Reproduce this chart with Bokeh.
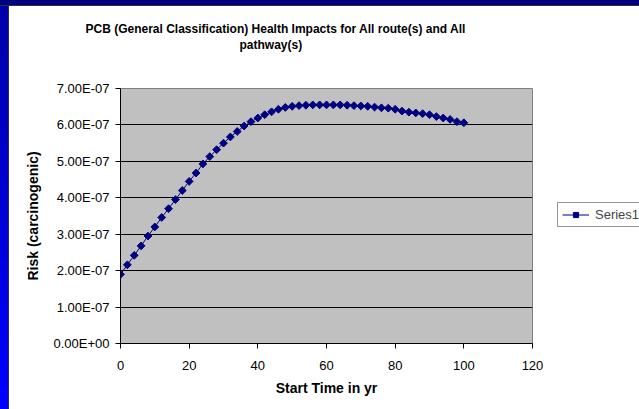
import math
from bokeh.plotting import figure
from bokeh.layouts import row
from bokeh.models import (Range1d, FixedTicker, CustomJSTickFormatter, Title,
                          Legend, LegendItem)
from bokeh.embed import file_html
from bokeh.resources import INLINE

# ---------------- data ----------------
start_time = list(range(0, 101, 2))
risk_e7 = [1.90, 2.16, 2.42, 2.68, 2.95, 3.20, 3.46, 3.70, 3.95, 4.20,
           4.45, 4.68, 4.93, 5.13, 5.32, 5.50, 5.67, 5.82, 5.97, 6.09,
           6.19, 6.28, 6.36, 6.43, 6.48, 6.51, 6.53, 6.54, 6.55, 6.55,
           6.55, 6.55, 6.55, 6.54, 6.53, 6.52, 6.51, 6.49, 6.47, 6.46,
           6.43, 6.38, 6.35, 6.33, 6.31, 6.28, 6.23, 6.19, 6.15, 6.09,
           6.06]
risk = [v * 1e-7 for v in risk_e7]
x_ticks = [0, 20, 40, 60, 80, 100, 120]
y_ticks = [0, 1e-7, 2e-7, 3e-7, 4e-7, 5e-7, 6e-7, 7e-7]
title_line1 = "PCB (General Classification) Health Impacts for All route(s) and All"
title_line2 = "pathway(s)"
x_label = "Start Time in yr"
y_label = "Risk (carcinogenic)"
series_name = "Series1"

W, H = 639, 409
FL, FR, FT, FB = 120, 532, 88, 343  # frame edges on canvas
W1 = 550                             # main figure width
W2 = W - W1                          # legend strip width

FONT = "Liberation Sans"
NAVY = "#000080"

p = figure(width=W1, height=H, output_backend="svg", toolbar_location=None,
           title=None,
           x_range=Range1d(0, 120), y_range=Range1d(0, 7e-7),
           min_border_left=FL, min_border_right=W1 - FR,
           min_border_top=FT, min_border_bottom=H - FB)
p.border_fill_alpha = 0
p.background_fill_color = "#c0c0c0"
p.outline_line_color = "#808080"
p.outline_line_width = 1

# slide decoration behind the chart (navy top strip, blue gradient left strip)
p.styles = {
    "background-color": "white",
    "background-image": ("linear-gradient(#000080, #000080), "
                         "linear-gradient(#303030, #303030), "
                         "linear-gradient(to bottom, #0000a8, #0000ff), "
                         "linear-gradient(#303030, #303030)"),
    "background-size": "100% 5px, 100% 1px, 8px 100%, 1px 100%",
    "background-position": "0 0, 0 5px, 0 0, 8px 0",
    "background-repeat": "no-repeat",
}

# axes
for ax in (p.xaxis[0], p.yaxis[0]):
    ax.axis_line_color = "black"
    ax.major_tick_line_color = "black"
    ax.major_tick_out = 5
    ax.major_tick_in = 0
    ax.minor_tick_line_color = None
    ax.major_label_text_font = FONT
    ax.major_label_text_font_size = "13px"
    ax.major_label_text_color = "black"
    ax.axis_label_text_font = FONT
    ax.axis_label_text_font_size = "14px"
    ax.axis_label_text_font_style = "bold"
    ax.axis_label_text_color = "black"

p.xaxis[0].ticker = FixedTicker(ticks=x_ticks)
p.xaxis[0].axis_label = x_label
p.xaxis[0].major_label_standoff = 12
p.xaxis[0].axis_label_standoff = 7

p.yaxis[0].ticker = FixedTicker(ticks=y_ticks)
p.yaxis[0].axis_label = y_label
p.yaxis[0].major_label_standoff = 6
p.yaxis[0].axis_label_standoff = 9
p.yaxis[0].formatter = CustomJSTickFormatter(code="""
if (Math.abs(tick) < 1e-20) return "0.00E+00";
var e = Math.floor(Math.log10(Math.abs(tick)) + 1e-9);
var m = tick / Math.pow(10, e);
if (Math.abs(m) >= 9.995) { m /= 10; e += 1; }
var s = e < 0 ? "-" : "+";
var ae = Math.abs(e);
return m.toFixed(2) + "E" + s + (ae < 10 ? "0" : "") + ae;
""")

p.xgrid.grid_line_color = None
p.ygrid.grid_line_color = "black"
p.ygrid.grid_line_width = 1

# series
p.line(start_time, risk, line_color=NAVY, line_width=1)
p.scatter(start_time, risk, marker="square", angle=math.pi / 4, size=5.5,
          fill_color=NAVY, line_color=NAVY)

# titles: spacer (closest to frame), then line 2, then line 1 on top
p.add_layout(Title(text=" ", text_font_size="31px", standoff=0), "above")
p.add_layout(Title(text=title_line2, align="left", offset=239 - FL,
                   text_font=FONT, text_font_size="12px", text_font_style="bold",
                   text_color="black", standoff=0), "above")
p.add_layout(Title(text=title_line1, align="left", offset=85 - FL,
                   text_font=FONT, text_font_size="12px", text_font_style="bold",
                   text_color="black", standoff=0), "above")

# ---------------- legend strip (continues the chart area to the right) -------
q = figure(width=W2, height=H, output_backend="svg", toolbar_location=None,
           title=None, x_axis_location=None, y_axis_location=None,
           x_range=Range1d(0, 1), y_range=Range1d(0, 1),
           min_border_left=0, min_border_right=0,
           min_border_top=0, min_border_bottom=0)
q.border_fill_alpha = 0
q.background_fill_alpha = 0
q.outline_line_color = None
q.xgrid.grid_line_color = None
q.ygrid.grid_line_color = None
q.styles = {
    "background-color": "white",
    "background-image": ("linear-gradient(#000080, #000080), "
                         "linear-gradient(#303030, #303030)"),
    "background-size": "100% 5px, 100% 1px",
    "background-position": "0 0, 0 5px",
    "background-repeat": "no-repeat",
}
lk = q.line([-5, -4], [-5, -4], line_color=NAVY, line_width=1)
sk = q.scatter([-5], [-5], marker="square", angle=math.pi / 4, size=5.5,
               fill_color=NAVY, line_color=NAVY)
# the row aligns this strip's frame with the main chart's frame (y 88..343)
legend = Legend(items=[LegendItem(label=series_name, renderers=[lk, sk])],
                location=(557 - W1, FB - 227),
                border_line_color="#303030", border_line_width=1,
                background_fill_color="white", background_fill_alpha=1,
                label_text_font=FONT, label_text_font_size="13px",
                glyph_width=27, glyph_height=13, label_standoff=6,
                padding=4, margin=0, spacing=0, label_height=13)
q.add_layout(legend, "center")

layout = row(p, q, spacing=0)
open("out.html", "w").write(file_html(layout, INLINE))
